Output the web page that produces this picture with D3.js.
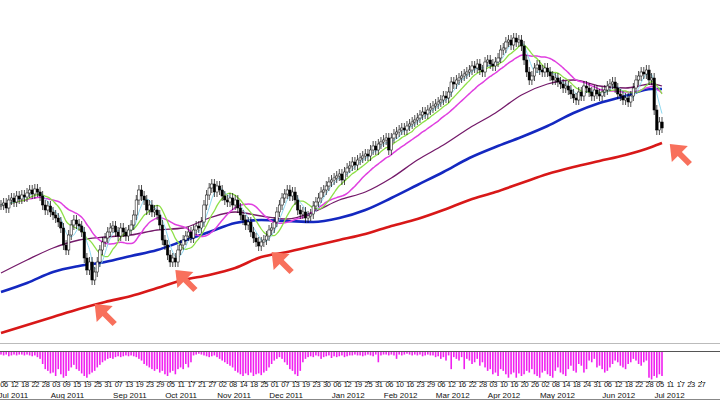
<!DOCTYPE html>
<html>
<head>
<meta charset="utf-8">
<script src="https://cdn.jsdelivr.net/npm/d3@7"></script>
<style>
  body { margin: 0; background: #fff; }
  svg { display: block; font-family: "Liberation Sans", Arial, sans-serif; }
</style>
</head>
<body>
<div id="chart"></div>
<script>
// daily closes (price units)
const closes = [
  135,137,132,140,142,138,144,141,145,143,
  147,150,146,151,148,144,135,130,134,128,
  125,122,118,112,95,90,105,115,120,116,
  114,108,82,70,78,60,68,78,90,98,
  102,108,112,114,108,104,112,108,104,110,
  115,125,140,150,144,140,130,135,128,130,
  125,115,100,95,85,78,82,78,90,95,
  100,104,108,102,110,114,112,118,135,145,
  152,156,148,154,150,144,140,138,142,135,
  140,132,125,120,115,118,108,102,98,94,
  98,100,104,110,112,118,128,135,142,146,
  150,144,148,140,130,126,128,122,124,126,
  134,138,142,148,150,154,158,160,162,164,
  166,160,168,172,174,178,175,180,182,184,
  186,184,190,194,190,196,198,200,202,190,
  202,206,208,210,212,210,214,216,218,220,
  222,225,228,226,230,232,234,236,238,240,
  244,242,248,258,256,260,262,264,266,268,
  270,274,272,276,270,268,278,280,276,274,
  278,282,290,292,298,300,295,302,298,300,
  294,280,268,260,264,272,275,270,268,272,
  268,264,260,262,258,256,252,254,250,246,
  242,240,248,244,254,252,248,244,250,246,
  244,248,250,254,256,258,252,246,244,240,
  242,238,244,252,260,264,268,266,270,260,
  262,230,210,218,212
];

// slower averages sampled every 10 bars (last point = final bar)
const maBars = [0,10,20,30,40,50,60,70,80,90,100,110,120,130,140,150,160,170,180,190,200,210,220,230,240,250,254];
const ma50  = [67,80,92,100,103,105,110,112,122,128,124,121,128,140,148,162,180,195,212,227,245,256,260,254,252,256,254];
const ma100 = [48,57,68,74,78,84,90,99,108,117,120,119,118,122,130,142,155,168,182,193,203,214,227,237,244,251,251];
const ma200 = [7,15,23,31,38,44,52,60,65,72,83,88,94,100,106,114,121,130,140,148,157,166,173,179,185,193,197];

// oscillator histogram (all below zero)
const hist = [
  3,4,3,5,4,3,4,3,3,4, 3,4,5,4,6,8,14,20,22,25, 24,28,20,26,30,28,22,18,15,20,
  22,25,28,30,26,24,22,18,15,12, 10,8,7,8,6,5,6,5,4,5, 4,5,6,8,10,14,16,18,20,22,
  20,24,22,26,28,24,22,26,20,18, 20,14,18,12,4,3,2,3,4,5, 6,5,4,6,8,10,12,14,16,18,
  22,24,26,28,25,27,24,28,26,25, 27,24,22,18,14,10,8,6,8,12, 15,20,22,26,28,22,12,8,6,5,
  6,4,5,8,6,5,4,7,5,6, 5,4,6,5,4,4,3,4,4,5, 4,3,4,5,3,12,4,3,3,4,
  3,4,8,3,4,3,2,3,4,3, 4,3,5,4,3,4,4,6,5,8, 6,10,4,20,6,8,10,6,20,8,
  10,14,12,8,16,12,18,22,20,26, 24,28,20,22,26,30,26,24,30,25, 28,26,22,24,20,26,28,30,24,22,
  26,28,30,22,18,24,26,28,20,16, 22,24,14,16,24,20,10,12,8,18, 16,20,24,22,18,14,10,12,16,18,
  20,14,12,8,10,14,16,12,10,30, 32,28,30,26,28
].map(v => -v);

const dayLabels = ["06","12","18","22","28","03","09","15","19","25","31","07","13","19","23","29","05","11","17","21","27","02","08","14","18","25","01","07","13","19","23","30","06","12","19","25","31","06","10","16","23","29","06","12","16","22","28","03","10","16","20","26","02","08","14","18","24","31","06","12","18","22","28","05","11","17","23","27"];
const monthLabels = [
  {at: 0, text: "Jul 2011"}, {at: 5, text: "Aug 2011"}, {at: 11, text: "Sep 2011"},
  {at: 16, text: "Oct 2011"}, {at: 21, text: "Nov 2011"}, {at: 26, text: "Dec 2011"},
  {at: 32, text: "Jan 2012"}, {at: 37, text: "Feb 2012"}, {at: 42, text: "Mar 2012"},
  {at: 47, text: "Apr 2012"}, {at: 52, text: "May 2012"}, {at: 58, text: "Jun 2012"},
  {at: 63, text: "Jul 2012"}
];
// bars the arrows point at, with the price of the arrow tip
const arrowBars = [36, 67, 104, 257];
const arrowPrices = [36, 70, 88, 196];

const W = 720, H = 400;
const svg = d3.select('#chart').append('svg').attr('width', W).attr('height', H);

const x = d3.scaleLinear().domain([0, closes.length - 1]).range([1, 662]);
const y = d3.scaleLinear().domain([0, 340]).range([340, 0]);
const yh = d3.scaleLinear().domain([-35, 0]).range([382, 352]);

const bars = closes.map((c, i) => {
  const o = i ? closes[i - 1] : c;
  return {i, o, c, hi: Math.max(o, c) + 5, lo: Math.min(o, c) - 5};
});

function sma(n) {
  return closes.map((c, i) => {
    const s = closes.slice(Math.max(0, i - n + 1), i + 1);
    return d3.mean(s);
  });
}

const main = svg.append('g');
const line = d3.line().x((d, i) => x(i)).y(d => y(d)).curve(d3.curveMonotoneX);
const sparse = d3.line().x(d => x(d[0])).y(d => y(d[1])).curve(d3.curveMonotoneX);

// slow averages
[[ma200, '#d81818', 2.6], [ma100, '#1428c0', 2.6], [ma50, '#741a6a', 1.3]].forEach(([arr, col, w]) => {
  main.append('path').attr('d', sparse(arr.map((v, k) => [maBars[k], v])))
    .attr('fill', 'none').attr('stroke', col).attr('stroke-width', w);
});
// fast averages
[[20, '#e040e0', 1.5], [10, '#8ee048', 1.3], [5, '#8cd8f0', 1]].forEach(([n, col, w]) => {
  main.append('path').attr('d', line(sma(n)))
    .attr('fill', 'none').attr('stroke', col).attr('stroke-width', w);
});

// candles
const cg = main.selectAll('g.c').data(bars).enter().append('g');
cg.append('line')
  .attr('x1', d => x(d.i)).attr('x2', d => x(d.i))
  .attr('y1', d => y(d.hi)).attr('y2', d => y(d.lo))
  .attr('stroke', '#000').attr('stroke-width', 0.7);
cg.append('rect')
  .attr('x', d => x(d.i) - 1.2).attr('width', 2.4)
  .attr('y', d => y(Math.max(d.o, d.c)))
  .attr('height', d => Math.max(1, Math.abs(y(d.o) - y(d.c))))
  .attr('fill', d => d.c >= d.o ? '#fff' : '#000')
  .attr('stroke', '#000').attr('stroke-width', 0.5);

// arrows
arrowBars.forEach((b, k) => {
  const g = svg.append('g').attr('transform', `translate(${x(b)},${y(arrowPrices[k])})`);
  g.append('line').attr('x1', 6).attr('y1', 6).attr('x2', 20).attr('y2', 20)
    .attr('stroke', '#f8705c').attr('stroke-width', 6);
  g.append('path').attr('d', 'M0,0 L18,2 L2,18 Z').attr('fill', '#f8705c');
});

// pane separators
svg.append('line').attr('x1', 0).attr('x2', W).attr('y1', 343.5).attr('y2', 343.5).attr('stroke', '#bbb');
svg.append('line').attr('x1', 0).attr('x2', W).attr('y1', 351.5).attr('y2', 351.5).attr('stroke', '#555');

// histogram
svg.append('g').selectAll('rect').data(hist).enter().append('rect')
  .attr('x', (d, i) => x(i) - 0.8).attr('width', 1.6)
  .attr('y', yh(0)).attr('height', d => yh(d) - yh(0))
  .attr('fill', '#f020f0');

// date axis
const tickBars = dayLabels.map((d, k) => 1 + 4 * k);
const ax = svg.append('g').attr('transform', 'translate(0,381)')
  .call(d3.axisBottom(x).tickValues(tickBars).tickSize(1).tickPadding(1).tickFormat((d, k) => dayLabels[k]));
ax.select('.domain').attr('stroke', '#888');
ax.selectAll('text').attr('font-size', 7.5).attr('letter-spacing', -0.3)
  .attr('dy', '0.5em').attr('fill', '#111');

svg.append('g').selectAll('text').data(monthLabels).enter().append('text')
  .attr('x', d => x(tickBars[d.at]) - 5).attr('y', 398)
  .attr('font-size', 8).attr('fill', '#111').text(d => d.text);
svg.append('line').attr('x1', 0).attr('x2', W).attr('y1', 399.5).attr('y2', 399.5).attr('stroke', '#888');
</script>
</body>
</html>
